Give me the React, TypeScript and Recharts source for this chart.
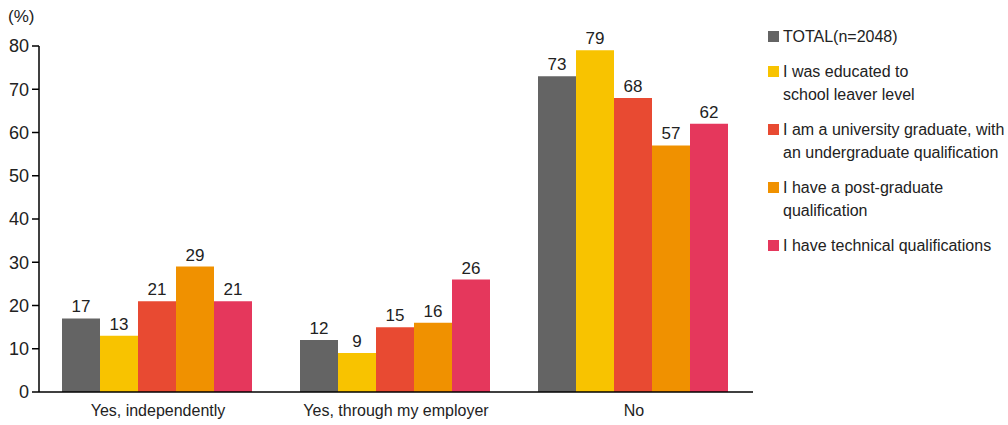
import { BarChart, Bar, XAxis, YAxis, LabelList } from 'recharts'

const categories = ['Yes, independently', 'Yes, through my employer', 'No']

const total = [17, 12, 73]
const schoolLeaver = [13, 9, 79]
const undergrad = [21, 15, 68]
const postGrad = [29, 16, 57]
const technical = [21, 26, 62]

const yTicks = [0, 10, 20, 30, 40, 50, 60, 70, 80]

const series = [
  { key: 'total', name: ['TOTAL(n=2048)'], color: '#646464', values: total },
  { key: 'school', name: ['I was educated to', 'school leaver level'], color: '#F8C300', values: schoolLeaver },
  { key: 'under', name: ['I am a university graduate, with', 'an undergraduate qualification'], color: '#E84A32', values: undergrad },
  { key: 'post', name: ['I have a post-graduate', 'qualification'], color: '#F09100', values: postGrad },
  { key: 'tech', name: ['I have technical qualifications'], color: '#E5375C', values: technical },
]

const chartData = categories.map((c, i) => {
  const row: Record<string, string | number> = { category: c }
  series.forEach(s => { row[s.key] = s.values[i] })
  return row
})

const FONT = 'Helvetica, Arial, "Liberation Sans", sans-serif'

export default function App() {
  return (
    <div style={{ position: 'absolute', left: 0, top: 0, width: 1008, height: 425, background: '#fff', fontFamily: FONT }}>
      <div style={{ position: 'absolute', left: 8, top: 7, fontSize: 17, color: '#222' }}>(%)</div>
      <BarChart
        width={1008}
        height={425}
        data={chartData}
        margin={{ top: 46, right: 255, bottom: 0, left: 0 }}
        barCategoryGap={23}
        barGap={0}
      >
        <XAxis
          dataKey="category"
          height={33}
          tickLine={false}
          axisLine={{ stroke: '#000', strokeWidth: 1.5 }}
          tick={{ fontSize: 16, fill: '#222', fontFamily: FONT }}
          tickMargin={7}
        />
        <YAxis
          width={39}
          domain={[0, 80]}
          ticks={yTicks}
          interval={0}
          axisLine={{ stroke: '#000', strokeWidth: 1.5 }}
          tickLine={{ stroke: '#000', strokeWidth: 1.5 }}
          tickSize={7}
          tickMargin={3}
          tick={{ fontSize: 18, fill: '#222', fontFamily: FONT }}
        />
        {series.map(s => (
          <Bar key={s.key} dataKey={s.key} fill={s.color} isAnimationActive={false}>
            <LabelList dataKey={s.key} position="top" offset={6} style={{ fontSize: 17, fill: '#222', fontFamily: FONT }} />
          </Bar>
        ))}
      </BarChart>
      <div style={{ position: 'absolute', left: 768, top: 25, fontSize: 16, color: '#222', lineHeight: '23px' }}>
        {series.map(s => (
          <div key={s.key} style={{ display: 'flex', alignItems: 'flex-start', marginBottom: 12 }}>
            <div style={{ width: 11, height: 11, background: s.color, marginTop: 6, marginRight: 4, flex: 'none' }} />
            <div>
              {s.name.map(n => <div key={n}>{n}</div>)}
            </div>
          </div>
        ))}
      </div>
    </div>
  )
}
